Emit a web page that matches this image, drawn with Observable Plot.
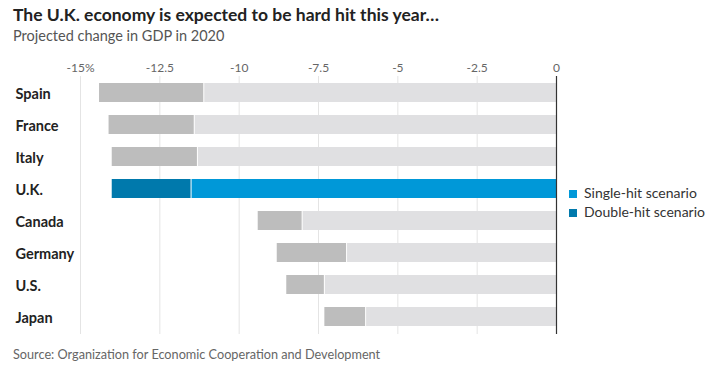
<!DOCTYPE html>
<html>
<head>
<meta charset="utf-8">
<script src="https://cdn.jsdelivr.net/npm/d3@7"></script>
<script src="https://cdn.jsdelivr.net/npm/@observablehq/plot@0.6"></script>
<style>
  html, body { margin: 0; padding: 0; background: #fff; }
  #wrap { position: relative; width: 713px; height: 384px; font-family: Lato, "Noto Sans", sans-serif; }
  .title { position: absolute; left: 13px; top: 5px; font-size: 17.5px; line-height: 20px; font-weight: 700; color: #222; white-space: nowrap; }
  .subtitle { position: absolute; left: 13px; top: 27px; font-size: 14.5px; line-height: 18px; color: #555; white-space: nowrap; }
  .source { position: absolute; left: 13px; top: 346px; font-size: 12.7px; line-height: 16px; color: #666; white-space: nowrap; }
  #chart { position: absolute; left: 0; top: 50px; }
  .legend { position: absolute; left: 569px; font-size: 14px; line-height: 16px; color: #333; white-space: nowrap; }
  .legend span.sw { display: inline-block; width: 8px; height: 8px; margin-right: 7px; vertical-align: 0px; }
</style>
</head>
<body>
<div id="wrap">
  <div class="title">The U.K. economy is expected to be hard hit this year…</div>
  <div class="subtitle">Projected change in GDP in 2020</div>
  <div id="chart"></div>
  <div class="legend" id="legend"></div>
  <div class="source">Source: Organization for Economic Cooperation and Development</div>
</div>
<script>
const countries = ["Spain", "France", "Italy", "U.K.", "Canada", "Germany", "U.S.", "Japan"];
const singleHit = [-11.1, -11.4, -11.3, -11.5, -8.0, -6.6, -7.3, -6.0];
const doubleHit = [-14.4, -14.1, -14.0, -14.0, -9.4, -8.8, -8.5, -7.3];
const xTicks = [-15, -12.5, -10, -7.5, -5, -2.5, 0];
const legendLabels = ["Single-hit scenario", "Double-hit scenario"];
const legendColors = ["#0098d8", "#0079ac"];

const data = countries.map((c, i) => ({country: c, single: singleHit[i], double: doubleHit[i]}));
const fmt = d => d === -15 ? "-15%" : String(d);
const isUK = d => d.country === "U.K.";

const chart = Plot.plot({
  width: 713,
  height: 290,
  marginTop: 26,
  marginBottom: 6,
  marginLeft: 80,
  marginRight: 157,
  style: {fontFamily: "Lato, 'Noto Sans', sans-serif", background: "transparent", overflow: "visible"},
  x: {domain: [-15, 0]},
  y: {domain: countries, paddingInner: 0.4, paddingOuter: 0.2, axis: null},
  marks: [
    Plot.ruleX(xTicks.filter(d => d !== 0), {stroke: "#e4e4e4", strokeWidth: 1}),
    Plot.axisX({anchor: "top", ticks: xTicks, tickSize: 0, tickPadding: 5, tickFormat: fmt, fontSize: 12, fill: "#666"}),
    Plot.barX(data, {y: "country", x1: 0, x2: "single", fill: d => isUK(d) ? legendColors[0] : "#e0e0e2", insetLeft: 0.5}),
    Plot.barX(data, {y: "country", x1: "double", x2: "single", fill: d => isUK(d) ? legendColors[1] : "#bdbdbd", insetRight: 0.5}),
    Plot.ruleX([0], {stroke: "#333", strokeWidth: 1.2}),
    Plot.text(countries, {y: d => d, text: d => d, frameAnchor: "left", textAnchor: "start", dx: -65, dy: 1.5, fontWeight: "bold", fontSize: 14.5, fill: "#222"})
  ]
});
document.getElementById("chart").appendChild(chart);

const leg = document.getElementById("legend");
leg.style.top = "185px";
leg.innerHTML = legendLabels.map((l, i) =>
  `<div style="height:19px"><span class="sw" style="background:${legendColors[i]}"></span>${l}</div>`).join("");
</script>
</body>
</html>
